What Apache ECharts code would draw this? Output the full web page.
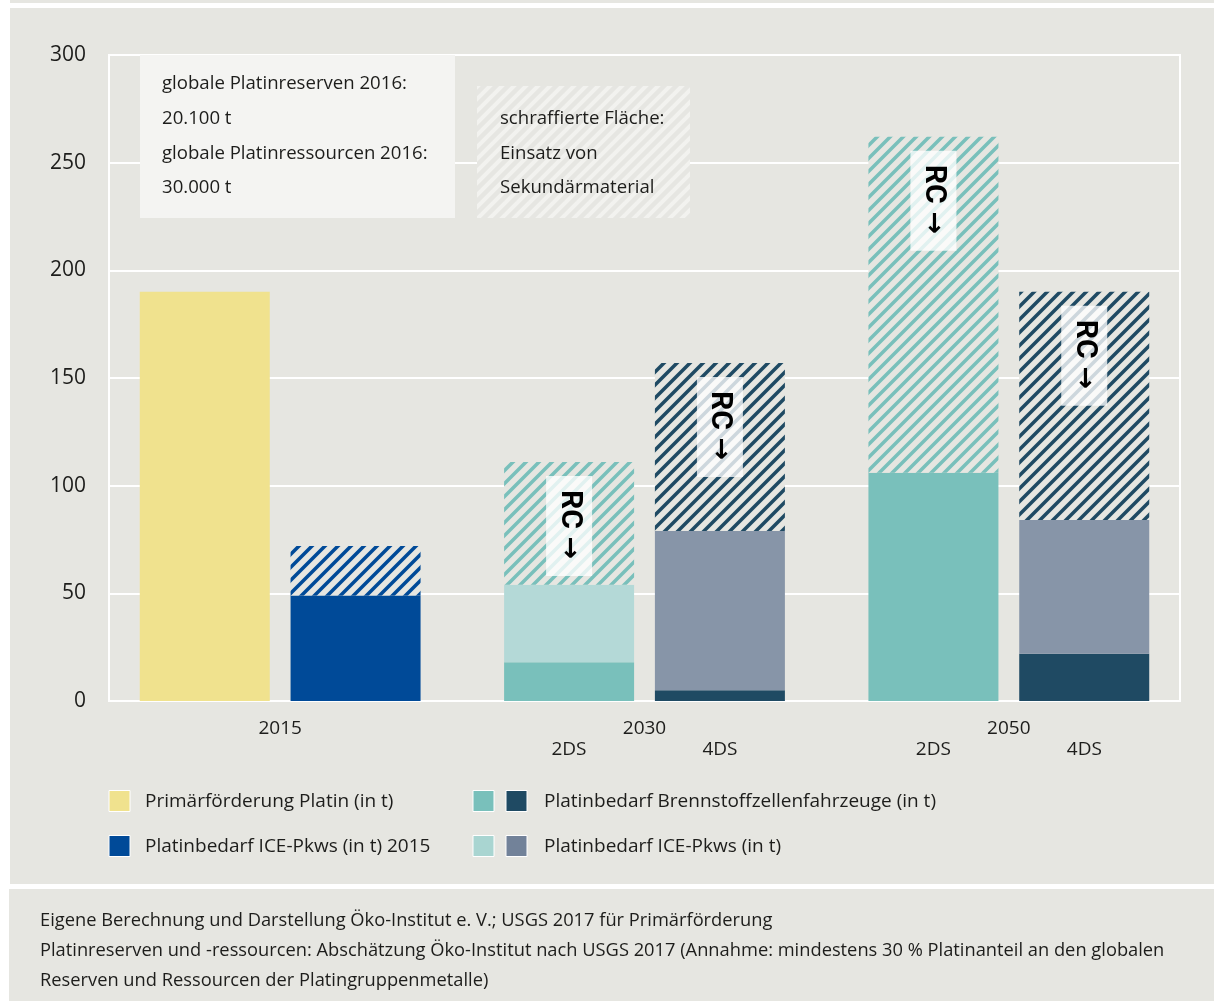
<!DOCTYPE html>
<html>
<head>
<meta charset="utf-8">
<script src="https://cdn.jsdelivr.net/npm/echarts@6.0.0/dist/echarts.min.js"></script>
<style>
  html, body { margin: 0; padding: 0; background: #fff; }
  #chart { width: 1214px; height: 1001px; }
</style>
</head>
<body>
<div id="chart"></div>
<script>
// values in t
var categories = ['2015', '2030', '2050'];
var scenarios = ['2DS', '4DS'];
var primaer = [190, '-', '-'];
var ice2015 = [49, '-', '-'];
var sek2015 = [23, '-', '-'];
var fcev2DS = ['-', 18, 106];
var ice2DS = ['-', 36, '-'];
var sek2DS = ['-', 57, 156];
var fcev4DS = ['-', 5, 22];
var ice4DS = ['-', 74, 62];
var sek4DS = ['-', 78, 106];

var infoLines = ['globale Platinreserven 2016:', '20.100 t', 'globale Platinressourcen 2016:', '30.000 t'];
var hatchLines = ['schraffierte Fläche:', 'Einsatz von', 'Sekundärmaterial'];
var sourceLines = [
    'Eigene Berechnung und Darstellung Öko-Institut e. V.; USGS 2017 für Primärförderung',
    'Platinreserven und -ressourcen: Abschätzung Öko-Institut nach USGS 2017 (Annahme: mindestens 30 % Platinanteil an den globalen',
    'Reserven und Ressourcen der Platingruppenmetalle)'
];

var BG = '#e6e6e1';
var TXT = '#1d1d1b';
var FONT = '"Open Sans"';

function hatch(color, back, size, width) {
    var c = document.createElement('canvas');
    c.width = size; c.height = size;
    var ctx = c.getContext('2d');
    ctx.fillStyle = back;
    ctx.fillRect(0, 0, size, size);
    ctx.strokeStyle = color;
    ctx.lineWidth = width;
    for (var k = 0; k < 3; k++) {
        ctx.beginPath();
        ctx.moveTo(-2, size * k + 2);
        ctx.lineTo(size * k + 2, -2);
        ctx.stroke();
    }
    return { image: c, repeat: 'repeat' };
}

var rcLabel = {
    show: true,
    position: ['50%', 14],
    rotate: -90,
    align: 'left',
    verticalAlign: 'middle',
    formatter: '{t|RC}{a|→}',
    backgroundColor: 'rgba(255,255,255,0.78)',
    width: 72,
    height: 46,
    lineHeight: 46,
    padding: [0, 14, 0, 14],
    rich: {
        t: { fontFamily: 'Roboto', fontWeight: 'bold', fontSize: 30, color: '#000', lineHeight: 46 },
        a: { fontFamily: 'DejaVu Sans', fontWeight: 'bold', fontSize: 27, color: '#000', lineHeight: 46, padding: [0, 0, 0, 8] }
    }
};

function bar(name, data, stack, color, label) {
    return {
        name: name,
        type: 'bar',
        xAxisIndex: 1,
        yAxisIndex: 1,
        stack: stack,
        data: data,
        barWidth: 130,
        barGap: '16%',
        itemStyle: { color: color },
        label: label || { show: false },
        emphasis: { disabled: true }
    };
}

var series = [
    bar('Primärförderung Platin (in t)', primaer, 'L', '#f0e28e'),
    bar('FCEV 2DS', fcev2DS, 'L', '#79c0bb'),
    bar('ICE 2DS', ice2DS, 'L', '#b4d9d7'),
    bar('Sekundär 2DS', sek2DS, 'L', hatch('#79c0bb', BG, 13, 3.5), rcLabel),
    bar('Platinbedarf ICE-Pkws (in t) 2015', ice2015, 'R', '#004a98'),
    bar('Sekundär 2015', sek2015, 'R', hatch('#004a98', BG, 13, 3.5)),
    bar('FCEV 4DS', fcev4DS, 'R', '#1f4a63'),
    bar('ICE 4DS', ice4DS, 'R', '#8795a8'),
    bar('Sekundär 4DS', sek4DS, 'R', hatch('#1f4a63', BG, 13, 3.5), rcLabel)
];

var graphics = [
    { type: 'rect', z: -100, shape: { x: 10, y: 0, width: 1204, height: 3 }, style: { fill: BG } },
    { type: 'rect', z: -100, shape: { x: 10, y: 8, width: 1204, height: 876 }, style: { fill: BG } },
    { type: 'rect', z: -100, shape: { x: 9, y: 889, width: 1205, height: 112 }, style: { fill: BG } },
    { type: 'rect', z: 50, shape: { x: 140, y: 55, width: 315, height: 163 }, style: { fill: '#f4f4f2' } },
    { type: 'rect', z: 50, shape: { x: 477, y: 86, width: 213, height: 132 }, style: { fill: hatch('#f2f2ef', '#e6e6e2', 12, 4) } }
];
infoLines.forEach(function (t, i) {
    graphics.push({ type: 'text', z: 60, x: 162, y: 84 + i * 34.7,
        style: { text: t, font: '18.6px ' + FONT, fill: TXT, verticalAlign: 'middle' } });
});
hatchLines.forEach(function (t, i) {
    graphics.push({ type: 'text', z: 60, x: 500, y: 119 + i * 34.5,
        style: { text: t, font: '18.6px ' + FONT, fill: TXT, verticalAlign: 'middle' } });
});

// legend
var legendRows = [
    { x: 109, y: 801, colors: ['#f0e28e'], text: 'Primärförderung Platin (in t)' },
    { x: 109, y: 846, colors: ['#004a98'], text: 'Platinbedarf ICE-Pkws (in t) 2015' },
    { x: 473, y: 801, colors: ['#79c0bb', '#1f4a63'], text: 'Platinbedarf Brennstoffzellenfahrzeuge (in t)' },
    { x: 473, y: 846, colors: ['#a9d5d1', '#728299'], text: 'Platinbedarf ICE-Pkws (in t)' }
];
legendRows.forEach(function (r) {
    r.colors.forEach(function (c, j) {
        graphics.push({ type: 'rect', z: 60, shape: { x: r.x + j * 33, y: r.y - 10.5, width: 21, height: 21 },
            style: { fill: c, stroke: '#fff', lineWidth: 1 } });
    });
    graphics.push({ type: 'text', z: 60, x: r.x + 36 + (r.colors.length - 1) * 35, y: r.y + 1,
        style: { text: r.text, font: '19px ' + FONT, fill: TXT, verticalAlign: 'middle' } });
});
sourceLines.forEach(function (t, i) {
    graphics.push({ type: 'text', z: 60, x: 40, y: 921 + i * 30,
        style: { text: t, font: '18.3px ' + FONT, fill: TXT, verticalAlign: 'middle' } });
});

var chart = echarts.init(document.getElementById('chart'));
chart.setOption({
    animation: false,
    backgroundColor: '#fff',
    grid: [
        { left: 109, right: 34, top: 55, bottom: 300, show: true, borderColor: '#fff', borderWidth: 2, backgroundColor: 'transparent' },
        { left: 98, right: 23, top: 55, bottom: 300 }
    ],
    xAxis: [
        { type: 'value', gridIndex: 0, min: 0, max: 1, show: false },
        {
            type: 'category', gridIndex: 1, data: categories,
            axisLine: { show: false }, axisTick: { show: false },
            axisLabel: {
                margin: 17,
                formatter: function (v) {
                    if (v === '2015') return '{y|' + v + '}\n{s|}';
                    return '{y|' + v + '}\n{s|' + scenarios[0] + '}{g|}{s|' + scenarios[1] + '}';
                },
                rich: {
                    y: { fontFamily: FONT, fontSize: 19, color: TXT, lineHeight: 21, align: 'center' },
                    s: { fontFamily: FONT, fontSize: 19, color: TXT, lineHeight: 21, width: 130, align: 'center' },
                    g: { width: 21 }
                }
            }
        }
    ],
    yAxis: [
        {
            type: 'value', gridIndex: 0, min: 0, max: 300, interval: 50,
            axisLine: { show: false }, axisTick: { show: false },
            axisLabel: { margin: 23, fontFamily: FONT, fontSize: 21, color: TXT, padding: [3, 0, 0, 0] },
            splitLine: { lineStyle: { color: '#fff', width: 2 } }
        },
        { type: 'value', gridIndex: 1, min: 0, max: 300, interval: 50, show: false, splitLine: { show: false } }
    ],
    graphic: graphics,
    series: series
});
</script>
</body>
</html>
